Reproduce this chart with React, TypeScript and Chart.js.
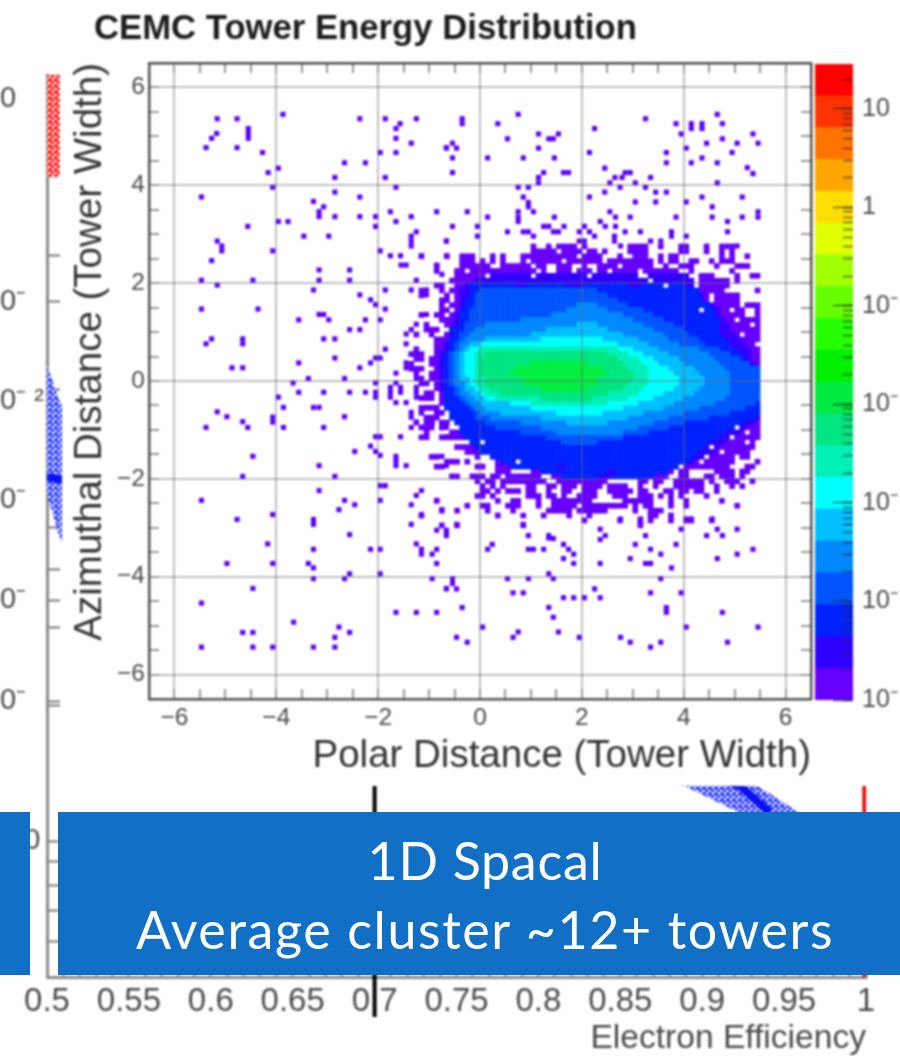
import React, { useEffect, useRef } from "react";
import { Chart, registerables } from "chart.js";

Chart.register(...registerables);

// ---------- 2D histogram: isolated cells [polar, azimuthal] ----------
const sparseCells: number[][] = [
[-5.16,5.36],[-4.77,5.36],[-3.87,5.45],[-2.36,5.36],[-1.86,5.36],[-1.57,5.26],[-1.65,5.16],[-1.25,5.36],[-5.17,5.06],[-5.27,4.96],[-5.38,4.77],[-4.55,5.16],[-4.55,5.06],[-4.55,4.96],[-4.77,4.77],[-4.27,4.67],[-4.16,4.26],[-3.96,4.35],[-2.66,4.46],[-2.25,4.46],[-1.96,4.67],[-1.65,4.67],[-1.65,4.96],[-1.35,4.86],[-0.66,4.77],[-1.86,4.16],[-1.65,3.96],[-2.85,4.16],[-2.85,3.86],[-4.07,3.96],[-5.47,3.76],[-3.27,3.67],[-3.07,3.56],[-3.16,3.46],[-3.16,3.36],[-2.85,3.36],[-2.36,3.76],[-2.36,3.36],[-2.05,3.36],[-2.05,3.16],[-1.76,3.46],[-1.65,3.26],[-1.35,3.36],[-0.85,3.46],[-3.96,3.26],[-3.77,3.26],[-4.56,3.16],[-3.46,2.96],[-2.97,2.96],[-5.16,2.86],[-5.07,2.76],[-5.07,2.66],[-4.07,2.66],[-5.27,2.46],[-1.96,2.66],[-1.76,2.56],[-1.56,2.56],[-1.15,2.56],[-0.66,2.86],[-0.66,2.56],[-1.35,2.96],[-1.25,3.05],[-1.35,2.86],[-1.35,2.76],[-1.55,2.37],[-1.45,2.37],[-3.16,2.27],[-2.56,2.27],[-0.85,2.37],[-0.75,2.18],[-5.47,2.06],[-4.46,2.06],[-5.16,1.96],[-3.16,2.06],[-2.56,2.06],[-1.25,2.06],[-3.27,1.86],[-1.86,1.86],[-1.35,1.86],[-1.05,1.86],[-1.05,1.76],[-2.36,1.76],[-2.15,1.66],[-2.05,1.56],[-5.47,1.47],[-4.36,1.47],[-1.86,1.47],[-3.16,1.36],[-3.07,1.36],[-1.05,1.36],[-3.56,1.25],[-2.97,1.25],[-2.25,1.25],[-1.96,1.25],[-2.56,1.05],[-2.36,1.05],[-1.25,1.16],[-1.35,1.05],[-1.45,0.96],[-3.07,0.86],[-2.85,0.86],[-5.27,0.86],[-5.38,0.76],[-4.66,0.86],[-4.66,0.76],[-1.45,0.76],[-1.86,0.65],[-2.85,0.47],[-2.05,0.47],[-1.96,0.47],[-2.15,0.37],[-3.56,0.37],[-2.36,0.27],[-1.45,0.37],[-1.45,0.27],[-4.87,0.27],[-4.66,0.27],[-1.65,0.16],[-3.37,0.05],[-2.66,0.05],[-1.25,0.05],[-3.67,-0.04],[-2.05,-0.04],[-1.65,-0.04],[-1.76,-0.13],[-1.56,-0.13],[-1.05,-0.04],[-3.56,-0.23],[-3.07,-0.23],[-2.56,-0.23],[-2.25,-0.23],[-2.05,-0.23],[-1.76,-0.23],[-1.56,-0.23],[-1.25,-0.13],[-1.25,-0.23],
[-3.96,-0.33],[-3.86,-0.54],[-3.27,-0.54],[-3.16,-0.54],[-5.16,-0.63],[-4.97,-0.73],[-4.66,-0.83],[-4.56,-0.95],[-5.38,-0.95],[-4.07,-0.74],[-4.07,-0.84],[-3.86,-0.95],[-3.07,-0.95],[-2.66,-0.73],[-2.05,-0.33],[-1.76,-0.33],[-1.65,-0.44],[-1.45,-0.44],[-1.25,-0.33],[-4.46,-1.54],[-4.66,-1.95],[-3.16,-1.73],[-2.85,-1.95],[-2.46,-1.44],[-2.15,-1.33],[-2.05,-1.44],[-1.96,-1.52],[-2.05,-1.14],[-1.96,-1.14],[-1.56,-1.14],[-1.65,-1.54],[-1.65,-1.63],[-1.65,-1.73],[-1.45,-1.73],[-0.85,-1.54],[-0.75,-1.54],[-0.66,-1.73],[-1.96,-2.14],[-1.86,-2.14],[-3.16,-2.24],[-1.96,-2.44],[-5.47,-2.44],[-2.66,-2.44],[-2.46,-2.53],[-2.77,-2.63],[-4.07,-2.73],[-4.77,-2.83],[-3.27,-2.83],[-3.27,-2.93],[-2.56,-3.14],[-4.17,-3.33],[-3.27,-3.44],[-2.15,-3.44],[-1.96,-3.44],[-4.97,-3.73],[-4.07,-3.73],[-3.37,-3.73],[-3.27,-3.82],[-2.56,-3.94],[-1.96,-3.94],[-2.66,-4.04],[-3.27,-4.04],[-4.46,-4.24],[-5.47,-4.54],[-3.66,-4.93],[-2.77,-5.03],[-2.85,-5.24],[-2.56,-5.14],[-4.66,-5.14],[-4.46,-5.14],[-5.47,-5.44],[-4.46,-5.44],[-4.07,-5.44],[-3.27,-5.44],[-2.85,-5.44],[-1.65,-4.73],[-1.25,-4.73],[-0.85,-4.73],[-1.15,-2.24],[-1.25,-2.34],[-1.35,-2.53],[-0.85,-2.44],[-0.75,-2.63],[-1.15,-2.73],[-1.35,-2.93],[-0.85,-3.05],[-0.66,-3.09],[-1.25,-3.33],[-1.15,-3.44],[-1.15,-3.54],[-0.94,-3.54],[-0.85,-3.44],[-0.85,-3.73],[-0.94,-4.04],[-0.66,-4.24],[-1.35,-0.64],[-1.35,-0.74],[-1.25,-0.84],[-1.35,-0.95],[-1.05,-1.14],[-0.66,-1.14],[-1.05,-0.54],[-0.94,-0.54],[-0.85,-0.54],[-0.85,-0.64],[-0.85,-0.74],[-0.94,-0.84],[-1.05,-0.95],[-0.66,-0.95],
[-0.35,5.36],[-0.35,5.26],[0.75,5.45],[0.35,5.26],[0.54,4.95],[1.15,5.05],[1.54,5.05],[1.35,4.95],[1.44,4.95],[1.15,4.76],[-0.54,4.86],[-0.66,4.76],[-0.46,4.76],[-0.54,4.56],[-0.54,4.26],[0.15,4.56],[0.85,4.56],[1.46,4.56],[1.25,4.26],[1.15,4.16],[1.15,4.05],[1.64,4.26],[1.74,4.26],[0.75,3.96],[0.95,3.96],[0.85,3.76],[0.95,3.65],[0.95,3.56],[1.05,3.46],[0.75,3.46],[0.75,3.35],[0.75,3.26],[-0.25,3.46],[0.15,3.35],[1.46,3.35],[-0.54,3.16],[-0.05,3.16],[-0.05,2.96],[0.54,3.05],[0.85,3.05],[0.95,3.05],[1.05,2.96],[1.25,3.16],[1.35,3.16],[1.44,3.05],[1.54,3.05],[1.65,3.16],[-0.66,2.86],
[2.25,5.16],[3.25,5.36],[3.85,5.26],[3.95,5.05],[4.15,5.26],[4.15,5.16],[4.36,5.26],[4.36,5.16],[4.66,5.45],[4.76,5.26],[4.76,4.95],[5.36,5.05],[5.46,4.86],[5.05,4.86],[4.45,4.86],[4.05,4.76],[2.15,4.67],[3.66,4.67],[3.66,4.46],[4.95,4.67],[4.36,4.56],[4.15,4.46],[4.66,4.46],[2.45,4.35],[5.25,4.36],[5.36,4.24],[2.95,4.26],[2.85,4.26],[2.79,4.16],[2.65,4.16],[3.35,4.16],[2.55,4.05],[3.05,4.05],[4.66,4.05],[2.75,3.96],[3.25,3.96],[2.45,3.86],[3.45,3.86],[3.66,3.86],[2.15,3.76],[4.36,3.76],[5.15,3.76],[3.05,3.66],[3.45,3.66],[4.05,3.66],[4.56,3.56],[2.55,3.46],[2.66,3.35],[2.95,3.35],[3.85,3.35],[4.56,3.35],[5.15,3.35],[5.46,3.46],[5.46,3.35],[2.36,3.26],[2.46,3.16],[2.66,3.16],[4.86,3.26],[2.85,3.05],[3.15,3.05],[4.86,3.05],[3.76,3.05],[3.76,2.96],[4.05,2.96],[2.05,3.16],[1.95,3.05],[2.15,3.05],[1.95,2.86],[2.25,2.96],[2.05,2.86],[2.64,2.96],[2.64,2.86],[2.76,2.76],[3.35,2.86],[3.55,2.86],[5.05,2.76],
[-0.46,-2.93],[-0.66,-3.05],[-0.66,-3.16],[0.85,-2.93],[0.95,-3.16],[1.35,-3.16],[1.44,-3.22],[1.35,-3.21],[0.24,-3.34],[0.15,-3.44],[0.95,-3.44],[1.05,-3.44],[1.25,-3.44],[1.64,-3.34],[1.74,-3.44],[1.84,-3.54],[1.64,-3.63],[1.84,-3.73],[2.36,-3.73],[2.76,-2.82],[3.15,-2.82],[3.15,-2.93],[2.36,-3.03],[2.46,-3.16],[2.36,-3.24],[3.25,-3.16],[3.05,-3.34],[3.35,-3.44],[3.55,-3.54],[3.85,-3.34],[2.95,-3.63],[3.25,-3.73],[3.35,-3.73],[3.76,-3.82],[3.95,-3.03],[4.05,-2.82],[4.15,-2.82],[4.56,-2.82],[4.45,-3.16],[4.66,-3.03],[4.76,-3.16],[5.05,-3.03],[4.66,-3.63],[5.05,-3.54],[5.36,-3.44],[-0.54,-4.04],[-0.54,-4.14],[-0.66,-4.25],[-0.46,-4.25],[0.54,-4.04],[0.95,-4.04],[1.35,-3.94],[1.44,-4.04],[3.55,-4.04],[2.25,-4.25],[0.65,-4.33],[0.85,-4.33],[3.35,-4.33],[3.95,-4.33],[1.64,-4.43],[1.84,-4.43],[2.05,-4.43],[2.36,-4.43],[-0.35,-4.63],[1.35,-4.63],[1.44,-4.83],[3.66,-4.63],[3.66,-4.73],[4.76,-4.73],[0.05,-5.03],[4.05,-5.03],[5.46,-5.03],[0.75,-5.13],[0.65,-5.24],[1.54,-5.13],[-0.46,-5.24],[-0.25,-5.34],[1.95,-5.24],[2.76,-5.24],[2.95,-5.34],[3.35,-5.44],[3.55,-5.34],[4.86,-5.34],
];

// ---------- 2D histogram core, as bin spans per row: [row, firstBin, lastBin] ----------
const binFirstX = -1.35;
const binFirstY = 2.75;
const binStep = 0.1;

const purpleSpans: number[][] = [
[0,24,24],[0,27,27],[0,29,32],[0,34,34],[0,43,46],[0,49,49],[0,53,54],[0,58,58],[0,61,63],
[1,24,28],[1,30,33],[1,35,36],[1,38,38],[1,43,46],[1,53,54],[1,58,58],[1,61,61],[1,63,63],
[2,2,2],[2,7,7],[2,10,12],[2,16,16],[2,18,18],[2,22,32],[2,34,37],[2,41,41],[2,44,46],[2,49,49],[2,51,52],[2,61,61],[2,63,63],[2,66,66],
[3,10,12],[3,14,14],[3,16,16],[3,18,18],[3,22,22],[3,24,29],[3,31,37],[3,39,47],[3,49,49],[3,51,52],[3,55,56],[3,59,59],[3,61,63],
[4,5,5],[4,10,15],[4,18,23],[4,25,26],[4,29,31],[4,34,34],[4,37,40],[4,42,47],[4,50,50],[4,53,55],[4,60,60],[4,64,66],
[5,5,5],[5,9,10],[5,12,24],[5,26,26],[5,29,31],[5,33,35],[5,37,38],[5,40,44],[5,46,52],[5,55,55],[5,63,63],
[6,9,14],[6,16,23],[6,25,34],[6,36,44],[6,47,54],[6,57,59],[6,64,64],[6,67,68],
[7,8,55],[7,57,62],[7,64,64],
[8,5,6],[8,9,55],[8,57,62],
[9,2,2],[9,6,6],[9,8,61],[9,68,68],
[10,2,2],[10,7,7],[10,9,58],[10,60,64],
[11,6,7],[11,9,58],[11,60,64],
[12,6,6],[12,8,64],[12,66,68],
[13,6,7],[13,9,56],[13,58,62],[13,64,65],[13,68,68],
[14,2,2],[14,5,6],[14,8,65],[14,68,68],
[15,6,7],[15,8,63],[15,65,68],
[16,3,3],[16,7,66],[16,68,68],
[17,3,5],[17,8,68],
[18,1,1],[18,4,4],[18,7,64],[18,66,68],
[19,5,68],[20,5,67],[21,1,1],[21,5,68],[22,0,2],[22,5,68],[23,1,2],[23,4,68],[24,0,0],[24,4,68],[25,0,2],[25,5,68],[26,1,1],[26,4,68],[27,2,2],[27,4,68],[28,2,3],[28,5,68],[29,5,68],[30,3,4],[30,6,68],[31,2,4],[31,6,68],[32,6,68],
[33,2,5],[33,7,68],[34,2,2],[34,5,6],[34,8,68],[35,3,5],[35,9,68],[36,1,1],[36,3,4],[36,6,7],[36,10,68],
[37,2,4],[37,6,6],[37,10,63],[37,65,68],[38,3,3],[38,8,9],[38,11,65],[38,67,68],[39,2,3],[39,6,10],[39,12,62],[39,64,68],
[40,13,65],[40,67,67],[41,9,13],[41,15,58],[41,60,67],[42,11,13],[42,17,60],[42,62,66],[43,4,5],[43,13,13],[43,17,57],[43,59,63],[43,65,66],
[44,7,9],[44,11,11],[44,17,20],[44,22,56],[44,58,63],[44,68,68],
[45,5,6],[45,13,14],[45,17,19],[45,21,41],[45,43,52],[45,54,58],[45,59,62],[45,66,67],
[46,17,19],[46,24,43],[46,45,51],[46,53,54],[46,60,63],[46,65,66],
[47,8,9],[47,12,14],[47,16,17],[47,19,25],[47,28,50],[47,53,54],[47,58,59],[47,61,63],[47,65,65],
[48,13,13],[48,15,16],[48,18,26],[48,29,38],[48,45,46],[48,48,49],[48,52,57],[48,59,59],[48,62,64],[48,67,67],
[49,14,14],[49,16,16],[49,18,18],[49,23,24],[49,27,28],[49,30,32],[49,34,37],[49,39,42],[49,45,45],[49,48,48],[49,52,57],[49,60,60],[49,63,63],[49,65,65],
[50,14,15],[50,17,17],[50,19,21],[50,23,24],[50,27,27],[50,30,31],[50,34,36],[50,39,43],[50,45,46],[50,50,51],[50,53,54],[50,56,57],[50,60,60],
[51,13,14],[51,16,16],[51,23,25],[51,27,28],[51,30,30],[51,33,36],[51,40,42],[51,45,47],[51,49,49],[51,51,51],[51,53,53],[51,58,58],
[52,5,5],[52,17,17],[52,20,21],[52,25,25],[52,28,35],[52,42,47],[52,51,51],[52,54,54],[52,61,61],
[53,11,11],[53,14,15],[53,19,21],[53,25,25],[53,28,32],[53,34,42],[53,44,44],[53,46,47],[53,51,51],[53,54,54],[53,64,64],
[54,6,6],[54,9,9],[54,15,15],[54,20,20],[54,27,31],[54,33,38],[54,44,44],[54,47,49],
[55,2,2],[55,17,17],[55,22,22],[55,26,26],[55,31,31],[55,35,35],[55,47,48],[55,51,51],
[56,34,34],[56,41,41],[56,45,45],[56,47,47],[56,51,51],[56,54,55],[56,59,59],
[57,6,6],[57,9,9],[57,22,22],[57,45,45],
];
const indigoSpans: number[][] = [
[6,16,23],[6,25,34],[6,36,44],[6,47,54],[7,13,55],[8,11,55],[9,10,56],[10,10,57],[11,10,57],[12,10,59],[13,10,60],[14,9,60],[15,9,61],[16,9,62],[17,9,62],[18,8,63],[19,8,64],[20,7,65],[21,7,66],[22,6,66],[23,6,66],[24,6,67],[25,6,67],[26,6,68],[27,6,68],[28,6,68],[29,6,68],[30,7,68],[31,7,68],[32,7,68],[33,8,68],[34,9,68],[35,10,68],[36,11,67],[37,11,65],[38,12,64],[39,13,63],[40,14,61],[41,15,60],[42,18,59],[43,18,57],[44,24,55],[45,26,52],[46,28,50],[47,34,46],
];
const blueSpans: number[][] = [
[8,12,20],[8,23,30],[8,34,42],[8,46,53],[9,12,30],[9,32,56],[10,12,56],[11,11,57],[12,11,58],[13,10,59],[14,10,59],[15,10,60],[16,10,60],[17,8,60],[18,9,60],[19,8,61],[20,8,62],[21,8,63],[22,7,64],[23,7,65],[24,7,66],[25,7,68],[26,7,68],[27,7,68],[28,7,68],[29,7,68],[30,7,68],[31,7,68],[32,7,68],[33,7,68],[34,8,68],[35,8,67],[36,9,65],[37,10,63],[38,10,61],[39,11,60],[40,12,58],[41,13,57],[42,14,56],[43,16,55],[44,18,54],[45,20,28],[45,31,52],[46,26,38],[46,41,50],[47,30,36],[47,40,47],
];
const royalSpans: number[][] = [
[9,14,36],[10,13,38],[11,13,40],[12,13,42],[13,12,45],[14,12,47],[15,12,49],[16,11,51],[17,11,53],[18,10,54],[19,10,56],[20,9,57],[21,9,60],[22,8,62],[23,8,64],[24,8,66],[25,8,68],[26,8,68],[27,8,68],[28,8,68],[29,9,68],[30,9,68],[31,10,68],[32,11,67],[33,12,65],[34,13,62],[35,13,58],[36,15,53],[37,17,50],[38,22,46],[39,27,41],[40,30,36],
];
const azureSpans: number[][] = [
[12,33,36],[13,31,38],[14,28,41],[15,22,43],[16,15,45],[17,13,47],[18,12,49],[19,11,50],[20,10,52],[21,10,56],[22,9,58],[23,9,59],[24,9,60],[25,9,61],[26,9,62],[27,9,62],[28,9,62],[29,10,62],[30,10,62],[31,11,61],[32,12,59],[33,13,56],[34,14,53],[35,16,50],[36,22,47],[37,26,44],[38,29,41],
];
const skySpans: number[][] = [
[16,33,36],[17,27,38],[18,24,41],[19,15,44],[20,12,46],[21,11,48],[22,10,50],[23,10,52],[24,10,53],[25,10,55],[26,10,56],[27,10,57],[28,11,57],[29,11,56],[30,12,55],[31,13,53],[32,14,51],[33,15,49],[34,18,45],[35,26,42],[36,31,38],
];
const cyanSpans: number[][] = [
[19,26,37],[20,14,40],[21,12,43],[22,11,45],[23,11,47],[24,11,48],[25,11,50],[26,11,51],[27,12,52],[28,12,52],[29,13,51],[30,14,49],[31,15,47],[32,20,44],[33,24,41],[34,29,37],
];
const tealSpans: number[][] = [
[21,14,40],[22,13,42],[23,13,44],[24,13,45],[25,13,46],[26,13,46],[27,13,46],[28,13,46],[29,14,45],[30,15,44],[31,17,42],[32,24,38],
];
const mintSpans: number[][] = [
[22,15,38],[23,14,40],[24,14,41],[25,14,42],[26,14,43],[27,15,43],[28,15,42],[29,16,41],[30,18,38],[31,26,35],
];
const greenSpans: number[][] = [
[24,24,34],[25,21,37],[26,20,38],[27,22,36],[28,23,36],[29,26,34],
];
// empty bins inside the rim: [row, bin]
const emptyBins: number[][] = [
[6,15],[6,35],[6,45],[6,46],[5,25],[4,27],[4,36],[5,36],[5,39],[5,45],[7,47],[8,50],[11,59],[13,57],[13,63],[13,66],[13,67],[14,66],[14,67],[15,64],[16,67],[18,65],[20,68],
[37,64],[38,66],[39,63],[40,66],[40,14],[41,59],[42,61],[43,64],[43,58],[44,57],[44,21],
];

const heatColors = ["#6600ff","#3000ff","#0022ff","#0055ff","#0088ff","#00bfff","#00ffff","#00f0b8","#00e680","#00f040"];
const heatSpans = [purpleSpans,indigoSpans,blueSpans,royalSpans,azureSpans,skySpans,cyanSpans,tealSpans,mintSpans,greenSpans];

// ---------- palette bar ----------
const paletteEdges = [1e-5,2.10e-5,4.42e-5,9.30e-5,1.95e-4,4.11e-4,8.65e-4,1.82e-3,3.82e-3,8.03e-3,1.69e-2,3.56e-2,7.48e-2,1.57e-1,3.30e-1,6.95e-1,1.46,3.07,6.46,13.6,28.6];
const paletteColors = ["#6600ff","#3000ff","#0022ff","#0055ff","#0088ff","#00bfff","#00ffff","#00f0b8","#00e680","#00ea40","#00f000","#26ff00","#66ff00","#a0ff00","#e0ff00","#ffdd00","#ffa600","#ff7300","#ff3300","#ff0000"];
const paletteDecades = [1e-5,1e-4,1e-3,1e-2,1e-1,1,10];
const paletteDecadeLabels = ["10⁻","10⁻","10⁻","10⁻","10⁻","1","10"];
const paletteMinorFactors = [2,3,4,5,6,7,8,9];

// ---------- axes of the 2D histogram ----------
const mainTicks = [-6,-5.5,-5,-4.5,-4,-3.5,-3,-2.5,-2,-1.5,-1,-0.5,0,0.5,1,1.5,2,2.5,3,3.5,4,4.5,5,5.5,6];

// ---------- background rejection plot ----------
const effMajor = [0.5,0.55,0.6,0.65,0.7,0.75,0.8,0.85,0.9,0.95,1];
const effLabels = ["0.5","0.55","0.6","0.65","0.7","0.75","0.8","0.85","0.9","0.95","1"];
const effMinor = [0.51,0.52,0.53,0.54,0.56,0.57,0.58,0.59,0.61,0.62,0.63,0.64,0.66,0.67,0.68,0.69,0.71,0.72,0.73,0.74,0.76,0.77,0.78,0.79,0.81,0.82,0.83,0.84,0.86,0.87,0.88,0.89,0.91,0.92,0.93,0.94,0.96,0.97,0.98,0.99];
const rejMajor = [8.78,6.75,5.76,4.77,3.77,2.76,1.36];
const rejLabels = ["0","0⁻","0⁻ ²","0⁻","0⁻","0⁻","   0"];
const rejMinor = [7.22,5.87,4.5,4.08,3.5,2.71,1.16,0.92,0.67,0.36];
const redBandEff = [0.499,0.5079,0.5079,0.499];
const redBandRej = [9.02,9.02,8.0,8.0];
const curveBandEff = [0.5,0.508,0.934,0.9585,0.98,0.95,0.9218,0.8895,0.508,0.5];
const curveBandRej = [6.12,5.74,1.91,1.65,1.3,1.3,1.65,1.91,4.37,4.84];
const curveCoreEff = [0.5,0.508,0.9231,0.9408];
const curveCoreRej = [5.0,4.98,1.91,1.65];
const cutEff = [0.7,0.7];
const cutRej = [-0.4,3];
const edgeEff = [0.999,0.999];
const edgeRej = [0,3];

const INK = "#4a4a4a";
const TICK = "#777777";
const SANS = "'Liberation Sans', Arial, sans-serif";

function zip(xs: number[], ys: number[]) { return xs.map((x, i) => ({ x, y: ys[i] })); }

function checker(color: string) {
  const c = document.createElement("canvas");
  c.width = 6; c.height = 6;
  const g = c.getContext("2d")!;
  g.fillStyle = "#ffffff"; g.fillRect(0, 0, 6, 6);
  g.fillStyle = color; g.fillRect(0, 0, 4, 4); g.fillRect(3, 3, 3, 3);
  return g.createPattern(c, "repeat")!;
}

function heatDatasets() {
  const grid = new Map<string, number>();
  heatSpans.forEach((spans, level) => {
    spans.forEach(([r, a, b]) => { for (let c = a; c <= b; c++) grid.set(r + ":" + c, level); });
  });
  emptyBins.forEach(([r, c]) => grid.delete(r + ":" + c));
  const out: { x: number; y: number }[][] = heatColors.map(() => []);
  grid.forEach((level, key) => {
    const [r, c] = key.split(":").map(Number);
    out[level].push({ x: binFirstX + binStep * c, y: binFirstY - binStep * r });
  });
  return out.map((data, i) => ({
    data, backgroundColor: heatColors[i], pointBackgroundColor: heatColors[i], pointStyle: "rect", pointRadius: 4, pointBorderWidth: 0, xAxisID: "x", yAxisID: "y", order: 10 - i,
  }));
}

const blur = "blur(0.9px)";

export default function App() {
  const bgRef = useRef<HTMLCanvasElement>(null);
  const mainRef = useRef<HTMLCanvasElement>(null);
  const barRef = useRef<HTMLCanvasElement>(null);

  useEffect(() => {
    const base = { responsive: false, animation: false as const, events: [] as any[], plugins: { legend: { display: false }, tooltip: { enabled: false } } };

    const bg = new Chart(bgRef.current!, {
      type: "scatter",
      data: { datasets: [
        { data: zip(redBandEff, redBandRej), showLine: true, fill: "shape", backgroundColor: checker("#ff1c1c"), borderWidth: 0, pointRadius: 0, order: 5 },
        { data: zip(curveBandEff, curveBandRej), showLine: true, fill: "shape", backgroundColor: checker("#2a3cff"), borderWidth: 0, pointRadius: 0, order: 4 },
        { data: zip(curveCoreEff, curveCoreRej), showLine: true, borderColor: "#0a10f0", borderWidth: 8, pointRadius: 0, order: 3 },
        { data: zip(edgeEff, edgeRej), showLine: true, borderColor: "#f00000", borderWidth: 4, pointRadius: 0, order: 2 },
        { data: zip(cutEff, cutRej), showLine: true, borderColor: "#000000", borderWidth: 4, pointRadius: 0, clip: false, order: 1 },
      ] as any },
      options: {
        ...base,
        layout: { padding: { left: 0, top: 75, right: 34, bottom: 0 } },
        scales: {
          x: {
            type: "linear", min: 0.5, max: 1,
            afterFit: (s: any) => { s.height = 79; },
            afterBuildTicks: (s: any) => { s.ticks = [...effMajor, ...effMinor].map((value) => ({ value })); },
            grid: { drawOnChartArea: false, tickLength: -8, tickColor: TICK, tickWidth: 2 },
            border: { color: "#8a8a8a", width: 3 },
            ticks: { autoSkip: false, maxRotation: 0, padding: 13, color: INK, font: { family: SANS, size: 33 }, callback: (v: any) => { const i = effMajor.indexOf(v); return i >= 0 ? effLabels[i] : ""; } },
            title: { display: true, text: "Electron Efficiency", align: "end", color: INK, font: { family: SANS, size: 33.6 }, padding: { top: 0, bottom: -3 } },
          },
          y: {
            type: "linear", min: 0, max: 9.02,
            afterFit: (s: any) => { s.width = 47; },
            afterBuildTicks: (s: any) => { s.ticks = [...rejMajor, ...rejMinor].map((value) => ({ value })); },
            grid: { drawOnChartArea: false, tickLength: -13, tickColor: TICK, tickWidth: 2 },
            border: { color: "#8a8a8a", width: 3 },
            ticks: { autoSkip: false, crossAlign: "far", padding: 30, color: INK, font: { family: SANS, size: 29 }, callback: (v: any) => { const i = rejMajor.indexOf(v); return i >= 0 ? rejLabels[i] : ""; } },
          },
        },
      } as any,
    });

    const sparseSet = { data: sparseCells.map(([x, y]) => ({ x, y })), backgroundColor: "#5a00ff", pointBackgroundColor: "#5a00ff", pointStyle: "rect", pointRadius: 3.6, pointBorderWidth: 0, xAxisID: "x", yAxisID: "y", order: 20 };
    const mainBuild = (s: any) => { s.ticks = mainTicks.map((value) => ({ value })); };
    const axisStyle = (isMajor: (v: number) => boolean) => ({
      z: 1,
      color: (c: any) => (c.tick && isMajor(c.tick.value) ? "rgba(105,105,105,0.42)" : "rgba(0,0,0,0)"),
      lineWidth: 2, tickLength: -10, tickWidth: 2,
      tickColor: (c: any) => (c.tick && isMajor(c.tick.value) ? "rgba(105,105,105,0.42)" : "#999999"),
    });
    const major = (v: number) => v % 2 === 0;
    const frame = { color: "#505050", width: 2.5, z: 2 };
    const labelFn = (v: any) => (major(v) ? (v < 0 ? "−" + Math.abs(v) : String(v)) : "");

    const main = new Chart(mainRef.current!, {
      type: "scatter",
      data: { datasets: [sparseSet, ...heatDatasets()] as any },
      options: {
        ...base,
        layout: { padding: { left: 0, top: 63, right: 89, bottom: 0 } },
        scales: {
          x: {
            type: "linear", position: "bottom", min: -6.5, max: 6.5,
            afterFit: (s: any) => { s.height = 87; },
            afterBuildTicks: mainBuild,
            grid: axisStyle(major), border: frame,
            ticks: { autoSkip: false, maxRotation: 0, padding: 15, color: INK, font: { family: SANS, size: 24.5 }, callback: labelFn },
            title: { display: true, text: "Polar Distance (Tower Width)", align: "end", color: "#333333", font: { family: SANS, size: 38.5 }, padding: { top: 0, bottom: 7 } },
          },
          x2: {
            type: "linear", position: "top", min: -6.5, max: 6.5,
            afterFit: (s: any) => { s.height = 0; },
            afterBuildTicks: mainBuild,
            grid: { ...axisStyle(major), drawOnChartArea: false }, border: frame,
            ticks: { display: false },
          },
          y: {
            type: "linear", position: "left", min: -6.5, max: 6.5,
            afterFit: (s: any) => { s.width = 87; },
            afterBuildTicks: mainBuild,
            grid: axisStyle(major), border: frame,
            ticks: { autoSkip: false, padding: 14, color: INK, font: { family: SANS, size: 24.5 }, callback: labelFn },
            title: { display: true, text: "Azimuthal Distance (Tower Width)", align: "end", color: "#333333", font: { family: SANS, size: 38.5 }, padding: { top: 5, bottom: 0 } },
          },
          y2: {
            type: "linear", position: "right", min: -6.5, max: 6.5,
            afterFit: (s: any) => { s.width = 0; },
            afterBuildTicks: mainBuild,
            grid: { ...axisStyle(major), drawOnChartArea: false }, border: frame,
            ticks: { display: false },
          },
        },
      } as any,
    });

    const bandDatasets = paletteColors.map((color, i) => ({
      data: [[paletteEdges[i], paletteEdges[i + 1]]], backgroundColor: color, borderWidth: 0, grouped: false, barPercentage: 1, categoryPercentage: 1,
    }));
    const bar = new Chart(barRef.current!, {
      type: "bar",
      data: { labels: [""], datasets: bandDatasets as any },
      options: {
        ...base,
        layout: { padding: { left: 3, top: 14, right: 0, bottom: 50 } },
        scales: {
          x: { display: false },
          y: {
            type: "logarithmic", position: "right", weight: 1, min: 1e-5, max: 28.6,
            afterFit: (s: any) => { s.width = 47; s.paddingTop = 0; s.paddingBottom = 0; },
            afterBuildTicks: (s: any) => {
              s.ticks = [...paletteDecades, ...paletteDecades.flatMap((d) => paletteMinorFactors.map((f) => d * f))].filter((v) => v < 28.6).map((value) => ({ value }));
            },
            grid: { drawOnChartArea: false, z: 1, tickLength: -10, tickWidth: 1.5, tickColor: "rgba(40,40,40,0.65)" },
            border: { display: false },
            ticks: { autoSkip: false, padding: 19, color: INK, font: { family: SANS, size: 25 }, callback: (v: any) => { const i = paletteDecades.indexOf(v); return i >= 0 ? paletteDecadeLabels[i] : ""; } },
          },
          y2: {
            type: "logarithmic", position: "right", weight: 0, min: 1e-5, max: 28.6,
            afterFit: (s: any) => { s.width = 0; s.paddingTop = 0; s.paddingBottom = 0; },
            afterBuildTicks: (s: any) => { s.ticks = paletteDecades.map((value) => ({ value })); },
            grid: { drawOnChartArea: false, z: 1, tickLength: -20, tickWidth: 1.5, tickColor: "rgba(40,40,40,0.65)" },
            border: { display: false },
            ticks: { display: false },
          },
        },
      } as any,
    });

    return () => { bg.destroy(); main.destroy(); bar.destroy(); };
  }, []);

  const abs = (l: number, t: number, w: number, h: number): React.CSSProperties => ({ position: "absolute", left: l, top: t, width: w, height: h });
  const boxText: React.CSSProperties = { position: "absolute", left: 64, width: 842, textAlign: "center", color: "#ffffff", fontFamily: "Lato, sans-serif", fontSize: 52, lineHeight: "60px", whiteSpace: "pre" };

  return (
    <div style={{ ...abs(0, 0, 900, 1056), overflow: "hidden", background: "#ffffff" }}>
      <canvas ref={bgRef} width={900} height={1056} style={{ ...abs(0, 0, 900, 1056), filter: blur }} />
      <canvas ref={mainRef} width={838} height={786} style={{ ...abs(62, 0, 838, 786), background: "#ffffff", filter: blur }} />
      <canvas ref={barRef} width={88} height={700} style={{ ...abs(812, 50, 88, 700), filter: blur }} />
      <div style={{ position: "absolute", left: 94, top: 7, color: "#1c1c1c", fontFamily: SANS, fontWeight: 700, fontSize: 34.7, lineHeight: "40px", whiteSpace: "pre", filter: blur }}>CEMC Tower Energy Distribution</div>
      <div style={{ ...abs(0, 812, 30, 163), background: "#116fc6" }} />
      <div style={{ ...abs(58, 812, 842, 163), background: "#116fc6" }} />
      <div style={{ ...boxText, top: 830, letterSpacing: "0.7px" }}>1D Spacal</div>
      <div style={{ ...boxText, top: 899, letterSpacing: "1.6px" }}>Average cluster ~12+ towers</div>
    </div>
  );
}
